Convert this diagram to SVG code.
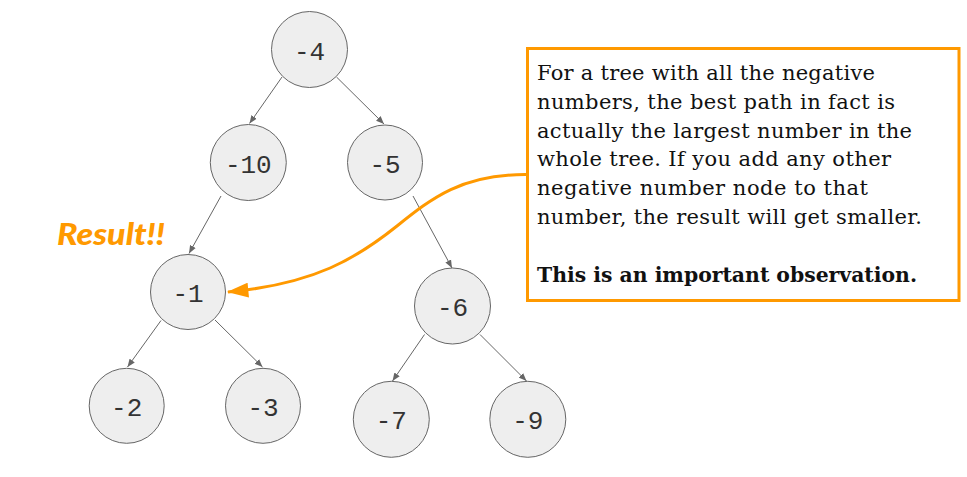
<svg xmlns="http://www.w3.org/2000/svg" width="967" height="477" viewBox="0 0 967 477">
<defs>
<style>
.node circle{fill:#eeeeee;stroke:#666666;stroke-width:1}
.node text{font-family:"Liberation Mono","DejaVu Sans Mono",monospace;font-size:26px;fill:#333333;text-anchor:middle}
.edge{stroke:#666666;stroke-width:1;fill:none;marker-end:url(#ah)}
.note{font-family:"DejaVu Serif","Liberation Serif",serif;font-size:21px;fill:#111111}
</style>
<marker id="ah" viewBox="0 0 10 10" refX="10" refY="5" markerWidth="8" markerHeight="8" markerUnits="userSpaceOnUse" orient="auto">
<path d="M0,1 L10,5 L0,9 z" fill="#666666"/>
</marker>
<marker id="oah" viewBox="0 0 20 14" refX="19" refY="7" markerWidth="22" markerHeight="15" markerUnits="userSpaceOnUse" orient="auto">
<path d="M0,0 L20,7 L0,14 z" fill="#ff9900"/>
</marker>
</defs>
<rect width="967" height="477" fill="#ffffff"/>
<g id="connectors">
<line class="edge" x1="282" y1="77" x2="249.5" y2="123.5"/>
<line class="edge" x1="336.5" y1="77" x2="384" y2="124"/>
<line class="edge" x1="221" y1="196" x2="189" y2="253.5"/>
<line class="edge" x1="413" y1="196" x2="452" y2="268"/>
<line class="edge" x1="161" y1="320.5" x2="127.5" y2="367"/>
<line class="edge" x1="215" y1="320" x2="262.5" y2="367"/>
<line class="edge" x1="424.5" y1="334.5" x2="392.5" y2="381"/>
<line class="edge" x1="480" y1="334.5" x2="526.5" y2="381"/>
<path d="M527,174.5 C462,174 432,198 397,226 C357,258 315,284 228,292" fill="none" stroke="#ff9900" stroke-width="3" marker-end="url(#oah)"/>
</g>
<g id="n-4" class="node"><circle cx="309.5" cy="49.5" r="38"/><text x="309.5" y="59.5">-4</text></g>
<g id="n-10" class="node"><circle cx="248.3" cy="162.5" r="38"/><text x="248.3" y="172.5">-10</text></g>
<g id="n-5" class="node"><circle cx="385" cy="162.5" r="37.5"/><text x="385" y="172.5">-5</text></g>
<g id="n-1" class="node"><circle cx="188" cy="292" r="37.5"/><text x="188" y="302">-1</text></g>
<g id="n-6" class="node"><circle cx="452.5" cy="306" r="38"/><text x="452.5" y="316">-6</text></g>
<g id="n-2" class="node"><circle cx="126.7" cy="405.8" r="37.5"/><text x="126.7" y="415.8">-2</text></g>
<g id="n-3" class="node"><circle cx="263" cy="405.8" r="37.5"/><text x="263" y="415.8">-3</text></g>
<g id="n-7" class="node"><circle cx="391.3" cy="419.3" r="38"/><text x="391.3" y="429.3">-7</text></g>
<g id="n-9" class="node"><circle cx="527.8" cy="419.3" r="38"/><text x="527.8" y="429.3">-9</text></g>
<g id="result-label"><text x="57" y="245" font-family="Lato,'DejaVu Sans',sans-serif" font-weight="900" font-style="italic" font-size="30" fill="#ff9900" textLength="108" lengthAdjust="spacingAndGlyphs">Result!!</text></g>
<g id="note">
<rect x="527.5" y="48.5" width="431.5" height="252" fill="#ffffff" stroke="#ff9900" stroke-width="3"/>
<text class="note" x="537" y="80" textLength="338">For a tree with all the negative</text>
<text class="note" x="537" y="108.8" textLength="358">numbers, the best path in fact is</text>
<text class="note" x="537" y="137.6" textLength="375">actually the largest number in the</text>
<text class="note" x="537" y="166.4" textLength="354">whole tree. If you add any other</text>
<text class="note" x="537" y="195.2" textLength="331">negative number node to that</text>
<text class="note" x="537" y="224" textLength="385">number, the result will get smaller.</text>
<text class="note" x="537" y="282" font-weight="bold" textLength="380" lengthAdjust="spacingAndGlyphs">This is an important observation.</text>
</g>
</svg>
